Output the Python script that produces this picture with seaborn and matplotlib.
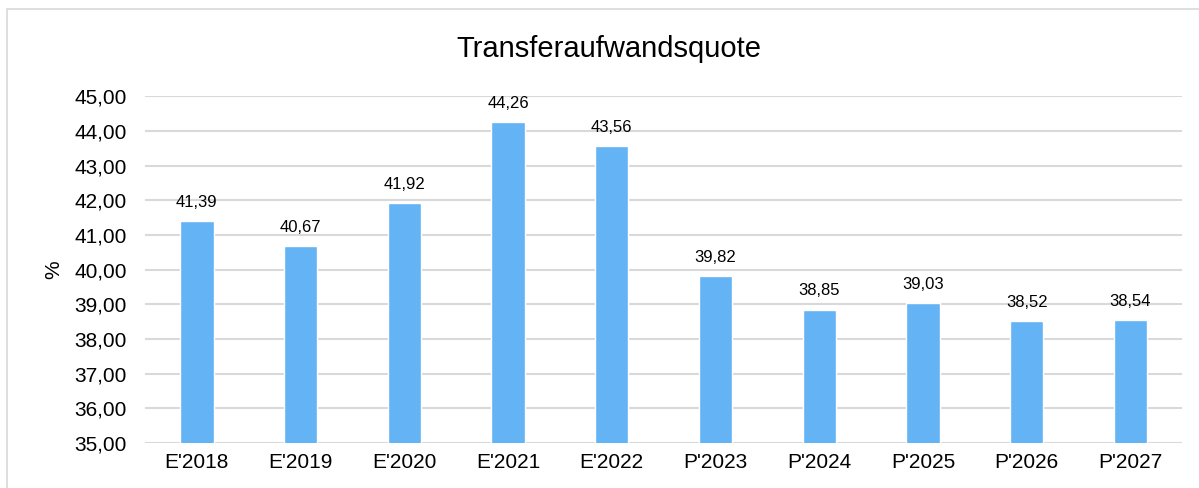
import matplotlib
matplotlib.use("Agg")
import matplotlib.pyplot as plt
import seaborn as sns
import pandas as pd
from matplotlib.patches import Rectangle

years = ["E'2018", "E'2019", "E'2020", "E'2021", "E'2022",
         "P'2023", "P'2024", "P'2025", "P'2026", "P'2027"]
quote = [41.39, 40.67, 41.92, 44.26, 43.56, 39.82, 38.85, 39.03, 38.52, 38.54]

data = pd.DataFrame({"Jahr": years, "Quote": quote})

sns.set_style("white")
plt.rcParams["font.family"] = ["Liberation Sans", "DejaVu Sans"]
plt.rcParams["text.color"] = "black"
plt.rcParams["xtick.color"] = "black"
plt.rcParams["ytick.color"] = "black"
plt.rcParams["axes.labelcolor"] = "black"

fig = plt.figure(figsize=(11.99, 4.88), dpi=100)
ax = fig.add_axes([0.121, 0.092, 0.865, 0.711])

sns.barplot(x="Jahr", y="Quote", data=data, color="#63B3F5", width=0.32,
            saturation=1, ax=ax, zorder=3)

ax.set_ylim(35, 45)
ax.set_yticks(range(35, 46))
ax.set_yticklabels([f"{v},00" for v in range(35, 46)], fontsize=15)
ax.tick_params(axis="x", labelsize=15, length=0, pad=7)
ax.tick_params(axis="y", length=0, pad=13)
ax.yaxis.grid(True, color="#D9D9D9", linewidth=1.5, zorder=0)
ax.set_axisbelow(True)
for s in ax.spines.values():
    s.set_visible(False)
ax.set_xlabel("")
ax.set_ylabel("%", fontsize=15, labelpad=8)

for i, v in enumerate(quote):
    ax.annotate(f"{v:.2f}".replace(".", ","), (i, v), xytext=(0, 8),
                textcoords="offset points", ha="center", va="bottom", fontsize=12)

fig.suptitle("Transferaufwandsquote", fontsize=21, x=0.508, y=0.928)

fig.patches.append(Rectangle((7 / 1199, -0.01), 1.1, 1 - 9 / 488 + 0.01,
                             transform=fig.transFigure, fill=False,
                             edgecolor="#D9D9D9", linewidth=1.2))

fig.savefig("out.png", dpi=100)
